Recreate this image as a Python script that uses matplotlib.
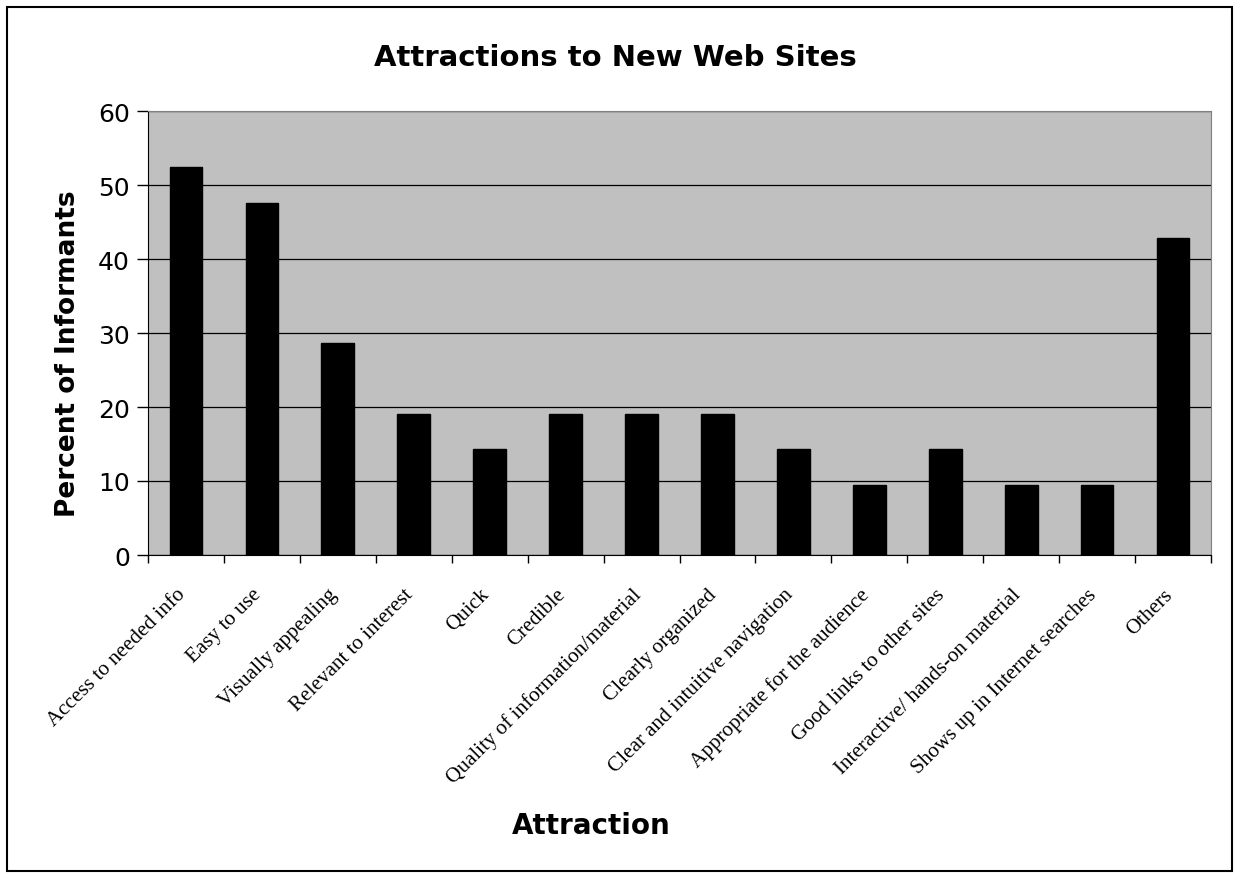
import numpy as np
import matplotlib
matplotlib.use("Agg")
import matplotlib.pyplot as plt
import matplotlib.transforms as mtransforms
from matplotlib.patches import Rectangle

# Survey results: share of informants naming each attraction
categories = [
    "Access to needed info",
    "Easy to use",
    "Visually appealing",
    "Relevant to interest",
    "Quick",
    "Credible",
    "Quality of information/material",
    "Clearly organized",
    "Clear and intuitive navigation",
    "Appropriate for the audience",
    "Good links to other sites",
    "Interactive/ hands-on material",
    "Shows up in Internet searches",
    "Others",
]
percent = [52.4, 47.6, 28.6, 19.0, 14.3, 19.0, 19.0, 19.0, 14.3, 9.5, 14.3, 9.5, 9.5, 42.9]
y_ticks = [0, 10, 20, 30, 40, 50, 60]

W, H = 1239, 878
fig = plt.figure(figsize=(W / 100, H / 100), dpi=100)
ax = fig.add_axes([148 / W, 1 - 556 / H, (1211 - 148) / W, (556 - 112) / H])

x = np.arange(len(categories))
ax.set_facecolor("#c0c0c0")
ax.bar(x, percent, width=0.43, color="black", edgecolor="black", zorder=3)

ax.set_xlim(-0.5, len(categories) - 0.5)
ax.set_ylim(0, 60)
ax.set_yticks(y_ticks)
ax.set_yticklabels([str(v) for v in y_ticks], fontsize=18, family="DejaVu Sans")
ax.yaxis.grid(True, color="black", linewidth=0.9, zorder=1)
ax.set_axisbelow(True)

# ticks between the categories, labels at the category centres
ax.set_xticks(np.arange(len(categories) + 1) - 0.5)
ax.set_xticklabels([])
ax.set_xticks(x, minor=True)
ax.set_xticklabels(categories, minor=True, rotation=45, ha="right", va="top",
                   rotation_mode="anchor", fontsize=15.2, family="Liberation Serif")
ax.tick_params(axis="x", which="minor", length=0, pad=12)
ax.tick_params(axis="x", which="major", length=6, width=1, color="black")
ax.tick_params(axis="y", length=8, width=1, color="black", pad=5)

# nudge the slanted labels a little left and down
shift = mtransforms.ScaledTranslation(-10 / 100, -13 / 100, fig.dpi_scale_trans)
for lbl in ax.get_xticklabels(minor=True):
    lbl.set_transform(lbl.get_transform() + shift)

for side in ["top", "right"]:
    ax.spines[side].set_color("#808080")
ax.spines["left"].set_color("black")
ax.spines["bottom"].set_color("black")

fig.text(615 / W, 1 - 58 / H, "Attractions to New Web Sites", ha="center", va="center",
         fontsize=21, fontweight="bold", family="DejaVu Sans")
fig.text(68 / W, 1 - 354 / H, "Percent of Informants", ha="center", va="center",
         rotation=90, fontsize=19, fontweight="bold", family="DejaVu Sans")
fig.text(591 / W, 1 - 826 / H, "Attraction", ha="center", va="center",
         fontsize=20, fontweight="bold", family="DejaVu Sans")

# outer chart border
fig.patches.append(Rectangle((7 / W, 1 - 872 / H), (1232 - 7) / W, (872 - 8) / H,
                             transform=fig.transFigure, fill=False,
                             edgecolor="black", linewidth=1.5))

fig.savefig("out.png", dpi=100)
